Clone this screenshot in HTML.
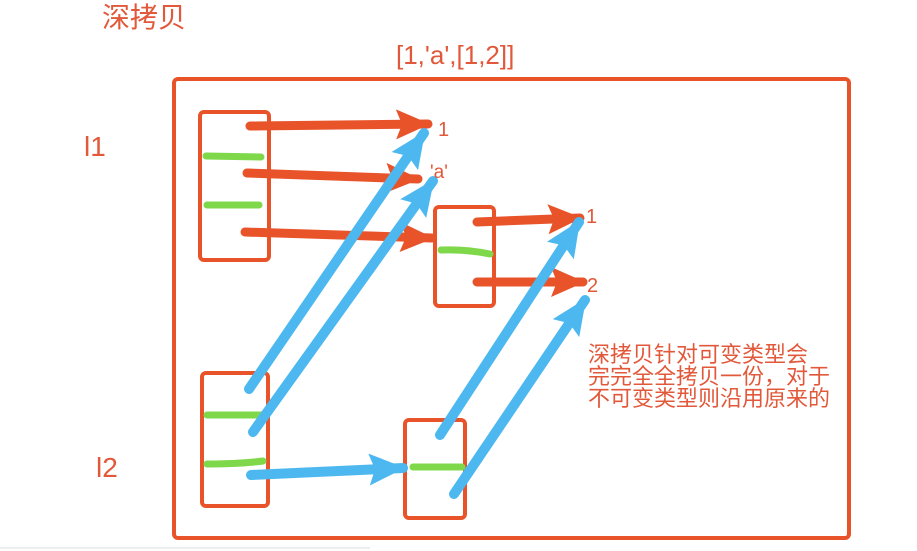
<!DOCTYPE html>
<html><head><meta charset="utf-8"><style>
html,body{margin:0;padding:0;background:#fff;width:917px;height:551px;overflow:hidden}
svg{display:block}
text{font-family:"Liberation Sans","Noto Sans CJK SC",sans-serif;fill:#E2583A}
</style></head><body>
<svg width="917" height="551" viewBox="0 0 917 551">
<defs>
<marker id="r" markerUnits="userSpaceOnUse" markerWidth="34" markerHeight="30" refX="32" refY="15" orient="auto"><path d="M0,0 L34,15 L0,30 L6,15 z" fill="#E8532A"/></marker>
<marker id="b" markerUnits="userSpaceOnUse" markerWidth="36" markerHeight="32" refX="34" refY="16" orient="auto"><path d="M0,0 L36,16 L0,32 L6,16 z" fill="#4DB8F0"/></marker>
</defs>
<line x1="0" y1="548" x2="370" y2="548" stroke="#ddd" stroke-width="1"/>
<text x="102" y="27" font-size="28">深拷贝</text>
<text x="396" y="64" font-size="26">[1,'a',[1,2]]</text>
<text x="84" y="156" font-size="28">l1</text>
<text x="96" y="477" font-size="28">l2</text>
<rect x="174" y="79" width="675" height="459" rx="4" fill="none" stroke="#E8532A" stroke-width="4"/>
<rect x="200" y="112" width="69" height="148" rx="4" fill="none" stroke="#E8532A" stroke-width="4"/>
<rect x="435" y="207" width="59" height="99" rx="4" fill="none" stroke="#E8532A" stroke-width="4"/>
<rect x="202" y="373" width="66" height="133" rx="4" fill="none" stroke="#E8532A" stroke-width="4"/>
<rect x="405" y="420" width="60" height="98" rx="4" fill="none" stroke="#E8532A" stroke-width="4"/>
<g stroke="#7ED84A" stroke-width="7" stroke-linecap="round" fill="none">
<line x1="206" y1="156" x2="261" y2="157"/>
<line x1="207" y1="205" x2="259" y2="205"/>
<path d="M441,250 Q465,249 490,254"/>
<line x1="207" y1="415" x2="262" y2="415"/>
<path d="M207,464 Q240,464 263,461"/>
<line x1="413" y1="467" x2="462" y2="467"/>
</g>
<g stroke="#E8532A" stroke-width="9" stroke-linecap="round">
<line x1="250" y1="126" x2="428" y2="124" marker-end="url(#r)"/>
<line x1="247" y1="173" x2="418" y2="179" marker-end="url(#r)"/>
<line x1="245" y1="232" x2="432" y2="238" marker-end="url(#r)"/>
<line x1="477" y1="222" x2="580" y2="218" marker-end="url(#r)"/>
<line x1="477" y1="282" x2="583" y2="282" marker-end="url(#r)"/>
</g>
<g stroke="#4DB8F0" stroke-width="10" stroke-linecap="round">
<line x1="249" y1="389" x2="424" y2="133" marker-end="url(#b)"/>
<line x1="253" y1="432" x2="433" y2="181" marker-end="url(#b)"/>
<line x1="251" y1="475" x2="403" y2="468" marker-end="url(#b)"/>
<line x1="440" y1="435" x2="579" y2="222" marker-end="url(#b)"/>
<line x1="454" y1="494" x2="585" y2="300" marker-end="url(#b)"/>
</g>
<text x="438" y="136" font-size="20">1</text>
<text x="430" y="178" font-size="19">'a'</text>
<text x="586" y="223" font-size="20">1</text>
<text x="587" y="292" font-size="20">2</text>
<text x="588" y="362" font-size="22">深拷贝针对可变类型会</text>
<text x="588" y="384" font-size="22">完完全全拷贝一份，对于</text>
<text x="588" y="406" font-size="22">不可变类型则沿用原来的</text>
</svg>
</body></html>
